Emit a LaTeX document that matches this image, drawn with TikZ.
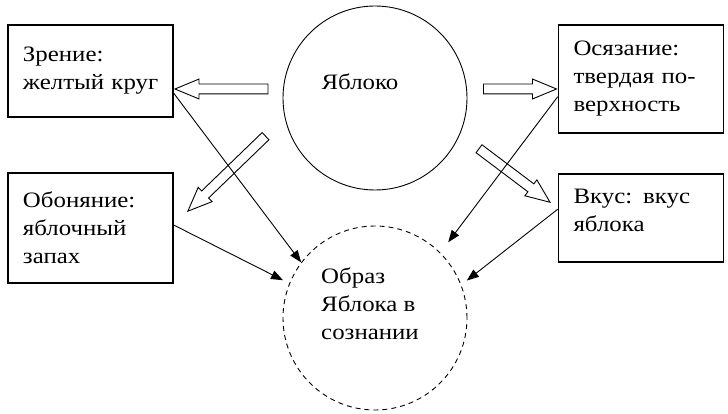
\documentclass[tikz,border=0pt]{standalone}
\usepackage{fontspec}
\setmainfont{Liberation Serif}[FakeStretch=1.13]
\usetikzlibrary{arrows.meta,shapes.arrows}
\tikzstyle{every picture}+=[x=1pt,y=-1pt]
\tikzstyle{every picture}+=[line width=0.9pt]
\tikzstyle{every picture}+=[font=\fontsize{22}{28}\selectfont]
\tikzstyle{sense}=[draw,line width=1.6pt,minimum width=165pt,align=left,text width=135pt,inner xsep=15pt]
\tikzstyle{hollow}=[draw,single arrow,single arrow head extend=5pt,single arrow tip angle=45,inner sep=4.5pt]
\tikzstyle{feed}=[-{Triangle[length=12pt,width=9pt]}]

\begin{document}
\begin{tikzpicture}
\useasboundingbox (0,0) rectangle (728,414);

\node[sense,minimum height=92pt] (zrenie) at (90.5,71) {Зрение:\\желтый~круг};
\node[sense,minimum height=110pt] (obon) at (90.5,228) {Обоняние:\\яблочный\\запах};
\node[sense,minimum height=108pt] (osyaz) at (641,79) {Осязание:\\твердая~по-\\верхность};
\node[sense,minimum height=88pt,text depth=43pt] (vkus) at (641,218) {Вкус: вкус\\яблока};

\node[circle,draw,minimum size=184pt,label={[xshift=-15pt,yshift=16pt]center:Яблоко}] (apple) at (375,98) {};
\node[circle,draw,dash pattern=on 5pt off 4pt,minimum size=184pt,label={[xshift=-5pt,yshift=14pt,align=left]center:Образ\\Яблока в\\сознании}] (image) at (375,318) {};

\node[hollow,minimum height=93pt,rotate=180,anchor=tip] (seen) at ([yshift=-18pt]zrenie.east) {};
\node[hollow,minimum height=108pt,rotate=224,anchor=tip] (smelt) at (187,212) {};
\node[hollow,minimum height=73pt,anchor=tip] (felt) at ([yshift=-10pt]osyaz.west) {};
\node[hollow,minimum height=89pt,rotate=-37,anchor=tip] (tasted) at (551,203) {};

\draw[feed] (zrenie.-15) -- (image.143);
\draw[feed,shorten >=7pt] (obon.2) -- (image.158);
\draw[feed,shorten >=13pt] (osyaz.192) -- (image.45);
\draw[feed,shorten >=7pt] (vkus.174) -- (image.21);
\end{tikzpicture}
\end{document}
